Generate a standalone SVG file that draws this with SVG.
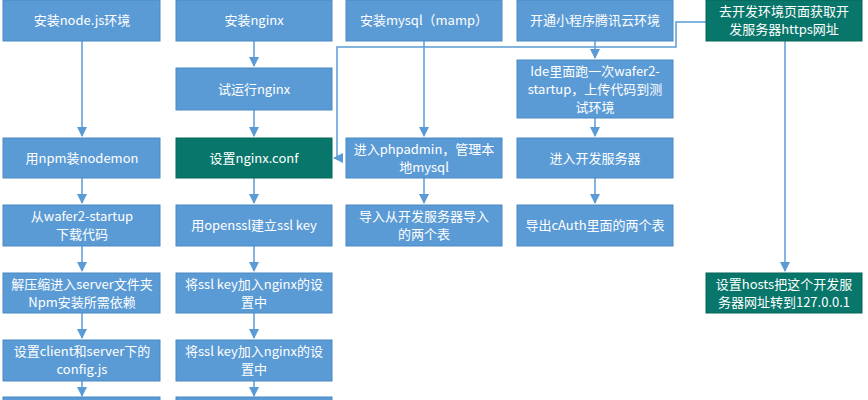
<svg xmlns="http://www.w3.org/2000/svg" width="868" height="400" viewBox="0 0 868 400">
<style>
.b{fill:#5b9bd5;stroke:#4a8ac4;stroke-width:1}
.t{fill:#08766a;stroke:#06665b;stroke-width:1}
text{font-family:"Noto Sans CJK SC","Liberation Sans",sans-serif;font-size:13px;fill:#fff;text-anchor:middle}
.c path{fill:none;stroke:#5b9bd5;stroke-width:1.5}
</style>
<defs><marker id="a" markerWidth="10" markerHeight="10" refX="9" refY="5" orient="auto" markerUnits="userSpaceOnUse"><path d="M0,0L10,5L0,10z" fill="#5b9bd5"/></marker></defs>
<rect width="868" height="400" fill="#fff"/>
<g class="c">
<path d="M82,41V136" marker-end="url(#a)"/>
<path d="M82,178V203" marker-end="url(#a)"/>
<path d="M82,246V271" marker-end="url(#a)"/>
<path d="M82,313V338" marker-end="url(#a)"/>
<path d="M82,381V396" marker-end="url(#a)"/>
<path d="M254,41V66" marker-end="url(#a)"/>
<path d="M254,110V136" marker-end="url(#a)"/>
<path d="M254,178V203" marker-end="url(#a)"/>
<path d="M254,246V271" marker-end="url(#a)"/>
<path d="M254,313V338" marker-end="url(#a)"/>
<path d="M254,381V396" marker-end="url(#a)"/>
<path d="M424,41V136" marker-end="url(#a)"/>
<path d="M424,178V203" marker-end="url(#a)"/>
<path d="M595,41V58" marker-end="url(#a)"/>
<path d="M595,118V136" marker-end="url(#a)"/>
<path d="M595,178V203" marker-end="url(#a)"/>
<path d="M706,22H676V47H337V158H334" marker-end="url(#a)"/>
<path d="M785,41V271" marker-end="url(#a)"/>
</g>
<g id="n1"><rect class="b" x="3" y="0" width="157" height="41"/><text x="82" y="25">安装node.js环境</text></g>
<g id="n2"><rect class="b" x="3" y="138" width="157" height="40"/><text x="82" y="163">用npm装nodemon</text></g>
<g id="n3"><rect class="b" x="3" y="205" width="157" height="41"/><text x="82" y="221">从wafer2-startup</text><text x="82" y="239">下载代码</text></g>
<g id="n4"><rect class="b" x="3" y="273" width="157" height="40"/><text x="82" y="289">解压缩进入server文件夹</text><text x="82" y="307">Npm安装所需依赖</text></g>
<g id="n5"><rect class="b" x="3" y="340" width="157" height="41"/><text x="82" y="356">设置client和server下的</text><text x="82" y="374">config.js</text></g>
<g id="n6"><rect class="b" x="3" y="397" width="157" height="10"/></g>
<g id="m1"><rect class="b" x="176" y="0" width="156" height="41"/><text x="254" y="25">安装nginx</text></g>
<g id="m2"><rect class="b" x="176" y="68" width="156" height="42"/><text x="254" y="94">试运行nginx</text></g>
<g id="m3"><rect class="t" x="176" y="138" width="156" height="40"/><text x="254" y="163">设置nginx.conf</text></g>
<g id="m4"><rect class="b" x="176" y="205" width="156" height="41"/><text x="254" y="230">用openssl建立ssl key</text></g>
<g id="m5"><rect class="b" x="176" y="273" width="156" height="40"/><text x="254" y="289">将ssl key加入nginx的设</text><text x="254" y="307">置中</text></g>
<g id="m6"><rect class="b" x="176" y="340" width="156" height="41"/><text x="254" y="356">将ssl key加入nginx的设</text><text x="254" y="374">置中</text></g>
<g id="m7"><rect class="b" x="176" y="397" width="156" height="10"/></g>
<g id="p1"><rect class="b" x="346" y="0" width="156" height="41"/><text x="424" y="25">安装mysql（mamp）</text></g>
<g id="p2"><rect class="b" x="346" y="138" width="156" height="40"/><text x="424" y="154">进入phpadmin，管理本</text><text x="424" y="172">地mysql</text></g>
<g id="p3"><rect class="b" x="346" y="205" width="156" height="41"/><text x="424" y="221">导入从开发服务器导入</text><text x="424" y="239">的两个表</text></g>
<g id="q1"><rect class="b" x="517" y="0" width="156" height="41"/><text x="595" y="25">开通小程序腾讯云环境</text></g>
<g id="q2"><rect class="b" x="517" y="60" width="156" height="58"/><text x="595" y="76">Ide里面跑一次wafer2-</text><text x="595" y="94">startup，上传代码到测</text><text x="595" y="112">试环境</text></g>
<g id="q3"><rect class="b" x="517" y="138" width="156" height="40"/><text x="595" y="163">进入开发服务器</text></g>
<g id="q4"><rect class="b" x="517" y="205" width="156" height="41"/><text x="595" y="230">导出cAuth里面的两个表</text></g>
<g id="r1"><rect class="t" x="706" y="0" width="156" height="41"/><text x="784" y="16">去开发环境页面获取开</text><text x="784" y="34">发服务器https网址</text></g>
<g id="r2"><rect class="t" x="706" y="273" width="156" height="40"/><text x="784" y="289">设置hosts把这个开发服</text><text x="784" y="307">务器网址转到127.0.0.1</text></g>
</svg>
